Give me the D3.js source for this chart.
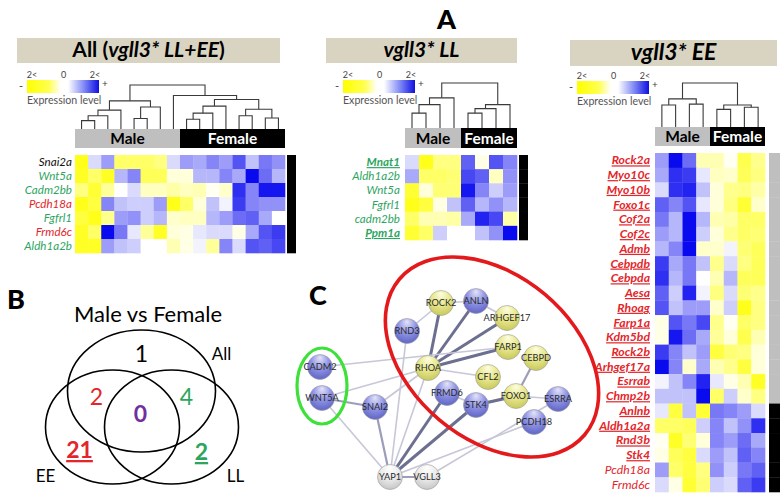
<!DOCTYPE html>
<html>
<head>
<meta charset="utf-8">
<script src="https://cdn.jsdelivr.net/npm/d3@7"></script>
<style>
  body { margin: 0; background: #fff; }
  text { font-family: Lato, "Open Sans", sans-serif; }
</style>
</head>
<body>
<svg id="fig" width="784" height="502"></svg>
<script>
// ---------- data: panel A ----------
const sexes = ["Male", "Female"];

const allGenes = ["Snai2a", "Wnt5a", "Cadm2bb", "Pcdh18a", "Fgfrl1", "Frmd6c", "Aldh1a2b"];
const allGeneSet = ["none", "LL", "LL", "EE", "LL", "EE", "LL"];
const allMaleN = 8;
const allValues = [
  [-1.8, 0.3, 0.8, -1.2, -1.2, -1.2, -1.0, 0.3, 0.8, 0.7, 1.0, 0.8, 1.4, 0.5, 1.1, 0.9],
  [-1.7, -1.2, -1.7, 0.6, 1.0, -1.3, -1.3, -0.3, -0.3, 0.6, 0.6, 1.0, 0.7, 2.0, 1.2, 0.6],
  [-1.0, -1.6, -0.8, 0.0, 0.3, -0.5, -0.5, -0.7, -0.5, -0.6, -0.1, -0.4, 1.7, 1.0, 1.9, 1.9],
  [-1.8, -1.5, 1.0, 0.5, 0.4, 0.4, 0.8, -1.8, -1.2, -0.3, 0.5, 0.1, 1.6, 1.0, 0.9, 0.9],
  [-1.5, -1.8, -0.9, 0.8, 0.9, 0.4, 0.6, -0.4, -0.5, -0.5, 0.6, 0.8, 1.2, 1.3, 0.7, 0.0],
  [-1.7, -1.2, 2.0, 1.1, 0.2, -0.8, -1.7, -0.3, -0.2, 0.2, 0.3, 0.3, -0.2, 0.7, 1.4, 1.6],
  [-1.7, -1.7, 0.8, 0.5, 0.4, 0.0, 0.0, -0.6, -0.2, 0.1, -0.8, 1.0, 0.3, 1.4, 1.3, 1.5]
];
const allBias = ["F", "F", "F", "F", "F", "F", "F"];
// dendrogram: [height, left, right], leaves = column index
const allTree = [1,
  [0.64, [0.43, [0.3, [0.19, 0, 1], 2], 3], [0.5, [0.24, 4, 5], 6]],
  [0.76, 7, [0.67, [0.52, [0.36, [0.22, 8, 9], 10], 11], [0.45, [0.3, 12, 13], [0.25, 14, 15]]]]
];

const llGenes = ["Mnat1", "Aldh1a2b", "Wnt5a", "Fgfrl1", "cadm2bb", "Ppm1a"];
const llOnly = ["Mnat1", "Ppm1a"];
const llMaleN = 4;
const llValues = [
  [0.3, -1.8, -1.0, -1.0, 1.3, -0.2, 1.4, 1.0],
  [0.7, -1.2, -1.2, -1.1, 1.5, 1.3, -0.5, 0.9],
  [-1.6, -0.3, -1.1, -1.1, 1.9, 1.0, 0.4, 0.8],
  [-1.8, -1.5, -0.2, 0.5, 1.3, 0.6, 0.9, 0.6],
  [-1.2, -0.6, -0.6, -0.7, 0.7, 1.8, 1.5, -0.7],
  [-1.6, -1.2, 0.4, 0.0, 0.0, 0.5, 0.9, 2.0]
];
const llBias = ["F", "F", "F", "F", "F", "F"];
const llTree = [1, [0.67, [0.52, [0.33, 0, 1], 2], 3], [0.52, [0.43, [0.33, 4, 5], 6], 7]];

const eeGenes = ["Rock2a", "Myo10c", "Myo10b", "Foxo1c", "Cof2a", "Cof2c", "Admb", "Cebpdb",
  "Cebpda", "Aesa", "Rhoag", "Farp1a", "Kdm5bd", "Rock2b", "Arhgef17a", "Esrrab", "Chmp2b",
  "Anlnb", "Aldh1a2a", "Rnd3b", "Stk4", "Pcdh18a", "Frmd6c"];
const eeShared = ["Pcdh18a", "Frmd6c"];
const eeMaleN = 4;
const eeValues = [
  [0.8, 2.0, 1.2, -0.6, -0.6, -0.1, -1.4, -0.9],
  [0.7, 1.7, 1.6, 0.2, -0.5, -0.4, -1.3, -1.0],
  [0.3, 1.7, 1.8, 0.5, -0.3, -0.9, -1.0, -0.7],
  [1.3, 1.0, 1.4, 0.2, -0.3, -1.0, -1.6, -0.4],
  [1.1, 0.6, 2.0, 0.6, -0.6, -0.7, -1.2, -1.2],
  [0.8, 0.6, 2.0, 0.4, -0.3, -0.9, -1.2, -1.1],
  [0.6, 1.0, 2.0, -0.4, -0.4, 0.1, -1.1, -1.3],
  [1.6, 0.7, 1.1, 0.5, -0.9, 0.3, -1.0, -1.3],
  [1.7, 0.6, 1.1, 0.0, -0.6, 0.6, -1.3, -1.3],
  [1.3, 0.4, 1.8, 0.1, -1.0, 0.3, -1.1, -0.9],
  [1.4, 0.5, 0.8, 0.8, -0.4, 0.4, -1.8, -1.0],
  [-0.2, 1.4, 1.1, 1.5, -0.9, -0.1, -1.2, -1.0],
  [-0.2, 1.9, 1.2, 0.7, -0.8, -0.3, -1.4, -0.6],
  [1.6, 1.0, 0.5, 0.8, -1.5, -1.1, -1.0, -0.3],
  [2.0, 1.0, -0.4, 0.7, -0.6, -0.9, -1.5, -0.3],
  [0.1, 0.5, 1.0, 1.8, 0.2, -0.2, -0.6, -1.7],
  [0.5, 0.5, 0.5, 2.0, -1.2, 0.4, -0.4, -1.0],
  [0.2, -1.5, 0.5, -1.6, 1.1, 1.0, 0.8, 0.3],
  [-1.2, -1.2, -1.3, 0.4, 1.0, 0.5, 0.9, 1.7],
  [-0.1, -1.7, -1.1, -0.3, 1.0, 0.8, 1.2, 0.7],
  [-0.2, -1.3, -1.5, 0.3, 0.8, 0.5, 1.3, 1.0],
  [0.8, -1.2, -1.5, -1.0, 0.9, 0.4, 1.1, 1.3],
  [0.3, -0.2, -1.6, -1.1, 0.4, 0.3, 1.3, 1.6]
];
const eeBias = ["M", "M", "M", "M", "M", "M", "M", "M", "M", "M", "M", "M", "M", "M", "M", "M", "M",
  "F", "F", "F", "F", "F", "F"];
const eeTree = [1, [0.64, [0.5, 0, 1], [0.52, 2, 3]], [0.5, [0.4, 4, 5], [0.45, 6, 7]]];

const legendTicks = ["2<", "0", "2<"];

// ---------- data: panel B ----------
const vennTitle = "Male vs Female";
const vennSets = ["All", "EE", "LL"];
const vennCx = [0, -29, 30];
const vennCy = [-36, 0, 0];
const vennRx = [74, 67, 67];
const vennRy = [61, 57, 57];
const vennCounts = ["1", "2", "4", "0", "21", "2"];
const vennRegion = ["All", "All+EE", "All+LL", "all", "EE", "LL"];
const vennCountX = [0, -45, 45, -1, -62, 60];
const vennCountY = [-65, -22, -22, -5, 31, 33];
const vennLabelX = [80, -96, 94];
const vennLabelY = [-67, 55, 55];

// ---------- data: panel C ----------
const netNames = ["ROCK2", "ANLN", "ARHGEF17", "RND3", "FARP1", "CEBPD", "RHOA", "CFL2", "FRMD6",
  "STK4", "FOXO1", "ESRRA", "PCDH18", "CADM2", "WNT5A", "SNAI2", "YAP1", "VGLL3"];
const netKind = ["up", "down", "up", "down", "up", "up", "up", "up", "down",
  "down", "up", "down", "down", "down", "down", "down", "query", "query"];
const netX = [141, 176, 207, 107, 208, 236, 128, 188, 147, 176, 216, 258, 234, 20, 22, 75, 90, 127];
const netY = [53, 51, 68, 81, 97, 108, 118, 127, 143, 155, 146, 149, 172, 117, 148, 157, 227, 227];
const netEdges = [
  ["ROCK2", "ANLN", 1], ["ROCK2", "RND3", 1], ["ROCK2", "RHOA", 3], ["ANLN", "RHOA", 3],
  ["ANLN", "ARHGEF17", 1], ["ARHGEF17", "RHOA", 3], ["FARP1", "RHOA", 3], ["CADM2", "FARP1", 1],
  ["RHOA", "CFL2", 1], ["WNT5A", "RHOA", 1], ["WNT5A", "SNAI2", 2], ["SNAI2", "RHOA", 1],
  ["WNT5A", "YAP1", 1], ["SNAI2", "YAP1", 2], ["RND3", "YAP1", 1], ["RHOA", "YAP1", 1],
  ["FRMD6", "YAP1", 3], ["STK4", "YAP1", 3], ["FRMD6", "STK4", 1], ["STK4", "FOXO1", 3],
  ["FOXO1", "CEBPD", 2], ["FOXO1", "ESRRA", 1], ["YAP1", "VGLL3", 2], ["YAP1", "PCDH18", 1],
  ["VGLL3", "ESRRA", 1]
];

// ---------- drawing ----------
const svg = d3.select("#fig");
const defs = svg.append("defs");
const RED = "#e3262b", GREEN = "#2ea55f", PURPLE = "#7030a0";

const heat = d3.scaleLinear().domain([-2, 0, 2]).range(["#ffff00", "#ffffff", "#0a0aef"]).clamp(true);

const lg = defs.append("linearGradient").attr("id", "legGrad");
[[0, "#ffff00"], [0.3, "#ffff50"], [0.47, "#ffffff"], [0.57, "#ffffff"], [0.8, "#7b85f5"], [1, "#0f10e0"]]
  .forEach(s => lg.append("stop").attr("offset", s[0]).attr("stop-color", s[1]));

function heatPanel(p, genes, values, tree, maleN, bias, labelFill, labelStrong) {
  const nCol = values[0].length;
  const x = d3.scaleBand().domain(d3.range(nCol)).range([p.x0, p.x1]);
  const y = d3.scaleBand().domain(genes).range([p.y0, p.y1]);
  const g = svg.append("g");

  // title bar
  g.append("rect").attr("x", p.tx0).attr("y", p.ty0)
    .attr("width", p.tx1 - p.tx0).attr("height", p.ty1 - p.ty0).attr("fill", "#d9d4c2");
  const t = g.append("text").attr("x", (p.tx0 + p.tx1) / 2).attr("y", p.ty1 - 6)
    .attr("text-anchor", "middle").attr("font-size", p.tsize).attr("font-weight", "bold");
  p.title.forEach(s => t.append("tspan").attr("font-style", s[1] ? "italic" : "normal").text(s[0]));

  // legend
  const lx = p.lx, ly = p.ly, lw = 72;
  g.append("rect").attr("x", lx).attr("y", ly).attr("width", lw).attr("height", 13).attr("fill", "url(#legGrad)");
  const lt = d3.scalePoint().domain(d3.range(3)).range([lx + 5, lx + lw - 4]);
  legendTicks.forEach((s, i) => g.append("text").attr("x", lt(i)).attr("y", ly - 2)
    .attr("text-anchor", "middle").attr("font-size", 9).attr("fill", "#444").text(s));
  g.append("text").attr("x", lx - 6).attr("y", ly + 10).attr("text-anchor", "middle")
    .attr("font-size", 11).attr("fill", "#444").text("-");
  g.append("text").attr("x", lx + lw + 6).attr("y", ly + 7).attr("text-anchor", "middle")
    .attr("font-size", 10).attr("fill", "#444").text("+");
  g.append("text").attr("x", lx).attr("y", ly + 24).attr("font-size", 10.6).attr("fill", "#555")
    .text("Expression level");

  // dendrogram
  const hy = d3.scaleLinear().domain([0, 1]).range([p.by0, p.dTop]);
  const root = d3.hierarchy(tree, d => Array.isArray(d) ? d.slice(1) : null);
  root.eachAfter(n => {
    if (n.children) {
      n.px = d3.mean(n.children, c => c.px);
      n.py = hy(n.data[0]);
    } else {
      n.px = x(n.data) + x.bandwidth() / 2;
      n.py = hy(0);
    }
  });
  g.append("g").selectAll("path").data(root.descendants().filter(n => n.children)).join("path")
    .attr("fill", "none").attr("stroke", "#3a3a3a").attr("stroke-width", 1.1)
    .attr("d", n => {
      const [a, b] = n.children;
      return `M${a.px},${a.py}V${n.py}H${b.px}V${b.py}`;
    });

  // male / female bar
  const sx = [x(0), x(maleN), p.x1];
  sexes.forEach((s, i) => {
    g.append("rect").attr("x", sx[i]).attr("y", p.by0).attr("width", sx[i + 1] - sx[i])
      .attr("height", p.by1 - p.by0).attr("fill", i ? "#000" : "#bfbfbf");
    g.append("text").attr("x", (sx[i] + sx[i + 1]) / 2).attr("y", p.by1 - 4)
      .attr("text-anchor", "middle").attr("font-size", p.bsize).attr("font-weight", "bold")
      .attr("fill", i ? "#fff" : "#000").text(s);
  });

  // cells
  values.forEach((row, r) => {
    g.append("g").selectAll("rect").data(row).join("rect")
      .attr("x", (d, c) => x(c)).attr("y", y(genes[r]))
      .attr("width", x.bandwidth() + 0.3).attr("height", y.bandwidth() + 0.3)
      .attr("fill", d => heat(d));
  });

  // side bar
  g.append("g").selectAll("rect").data(bias).join("rect")
    .attr("x", p.sx0).attr("width", p.sx1 - p.sx0)
    .attr("y", (d, i) => y(genes[i])).attr("height", y.bandwidth() + 0.3)
    .attr("fill", d => d === "M" ? "#bfbfbf" : "#000");

  // gene labels
  g.append("g").selectAll("text").data(genes).join("text")
    .attr("x", p.gx).attr("y", d => y(d) + y.bandwidth() / 2 + 4)
    .attr("text-anchor", "end").attr("font-size", p.gsize).attr("font-style", "italic")
    .attr("fill", (d, i) => labelFill(d, i))
    .attr("font-weight", d => labelStrong(d) ? "bold" : "normal")
    .style("text-decoration", d => labelStrong(d) ? "underline" : "none")
    .text(d => d);
}

const setColor = { none: "#111", LL: GREEN, EE: RED };

heatPanel({
  x0: 75, x1: 285, y0: 155, y1: 253, tx0: 17, tx1: 280, ty0: 38, ty1: 63, tsize: 21,
  title: [["All (", false], ["vgll3* LL+EE", true], [")", false]],
  lx: 27, ly: 80, dTop: 85, by0: 129, by1: 148, bsize: 15.5, sx0: 287, sx1: 296, gx: 72, gsize: 11.6
}, allGenes, allValues, allTree, allMaleN, allBias, (d, i) => setColor[allGeneSet[i]], d => false);

heatPanel({
  x0: 405, x1: 517, y0: 155, y1: 240, tx0: 326, tx1: 517, ty0: 38, ty1: 63, tsize: 21,
  title: [["vgll3* LL", true]],
  lx: 343, ly: 80, dTop: 83, by0: 128, by1: 148, bsize: 15.5, sx0: 519, sx1: 528, gx: 400, gsize: 11.6
}, llGenes, llValues, llTree, llMaleN, llBias, () => GREEN, d => llOnly.includes(d));

heatPanel({
  x0: 655, x1: 765, y0: 153, y1: 492, tx0: 570, tx1: 777, ty0: 40, ty1: 66, tsize: 23,
  title: [["vgll3* EE", true]],
  lx: 577, ly: 81, dTop: 83, by0: 127, by1: 146, bsize: 15.5, sx0: 769, sx1: 780, gx: 650, gsize: 12.2
}, eeGenes, eeValues, eeTree, eeMaleN, eeBias, () => RED, d => !eeShared.includes(d));

// panel letters
[["A", 437, 29], ["B", 7, 309], ["C", 309, 305]].forEach(l =>
  svg.append("text").attr("x", l[1]).attr("y", l[2]).attr("font-size", 27)
    .attr("font-weight", "900").text(l[0]));

// ---------- panel B: Venn ----------
const vx = d3.scaleLinear().domain([-100, 100]).range([41.5, 241.5]);
const vy = d3.scaleLinear().domain([-100, 100]).range([327, 527]);
svg.append("text").attr("x", 148).attr("y", 322).attr("text-anchor", "middle")
  .attr("font-size", 22).text(vennTitle);
svg.append("g").selectAll("ellipse").data(vennSets).join("ellipse")
  .attr("cx", (d, i) => vx(vennCx[i])).attr("cy", (d, i) => vy(vennCy[i]))
  .attr("rx", (d, i) => vennRx[i]).attr("ry", (d, i) => vennRy[i])
  .attr("fill", "none").attr("stroke", "#000").attr("stroke-width", 1.6);
svg.append("g").selectAll("text").data(vennSets).join("text")
  .attr("x", (d, i) => vx(vennLabelX[i])).attr("y", (d, i) => vy(vennLabelY[i]))
  .attr("text-anchor", "middle").attr("font-size", 17).text(d => d);
const regionStyle = {
  "All": ["#000", "normal", "none"], "All+EE": [RED, "normal", "none"],
  "All+LL": [GREEN, "normal", "none"], "all": [PURPLE, "bold", "none"],
  "EE": [RED, "bold", "underline"], "LL": [GREEN, "bold", "underline"]
};
svg.append("g").selectAll("text").data(vennCounts).join("text")
  .attr("x", (d, i) => vx(vennCountX[i])).attr("y", (d, i) => vy(vennCountY[i]))
  .attr("text-anchor", "middle").attr("font-size", 23)
  .attr("fill", (d, i) => regionStyle[vennRegion[i]][0])
  .attr("font-weight", (d, i) => regionStyle[vennRegion[i]][1])
  .style("text-decoration", (d, i) => regionStyle[vennRegion[i]][2])
  .text(d => d);

// ---------- panel C: network ----------
const nx = d3.scaleLinear().domain([0, 300]).range([300, 600]);
const ny = d3.scaleLinear().domain([0, 250]).range([250, 500]);
const nodes = netNames.map((n, i) => ({ id: n, kind: netKind[i], x: nx(netX[i]), y: ny(netY[i]) }));
const byId = new Map(nodes.map(n => [n.id, n]));
const edgeStyle = { 1: ["#c6c7d8", 1.6], 2: ["#9c9db8", 2.2], 3: ["#6d6f90", 3] };

const grads = { down: ["#e4e4fa", "#9094e4", "#5a5fc2"], up: ["#fdfde0", "#e8e890", "#c5c556"], query: ["#ffffff", "#ececec", "#c2c2c2"] };
Object.entries(grads).forEach(([k, c]) => {
  const gr = defs.append("radialGradient").attr("id", "node-" + k)
    .attr("cx", 0.5).attr("cy", 0.35).attr("r", 0.7).attr("fx", 0.5).attr("fy", 0.12);
  [[0, c[0]], [0.5, c[1]], [1, c[2]]].forEach(s => gr.append("stop").attr("offset", s[0]).attr("stop-color", s[1]));
});

svg.append("g").selectAll("line").data(netEdges).join("line")
  .attr("x1", d => byId.get(d[0]).x).attr("y1", d => byId.get(d[0]).y)
  .attr("x2", d => byId.get(d[1]).x).attr("y2", d => byId.get(d[1]).y)
  .attr("stroke", d => edgeStyle[d[2]][0]).attr("stroke-width", d => edgeStyle[d[2]][1]);

// cluster outlines
svg.append("ellipse").attr("cx", nx(22)).attr("cy", ny(136)).attr("rx", 25).attr("ry", 38)
  .attr("fill", "none").attr("stroke", "#3ee03a").attr("stroke-width", 3.2);
svg.append("ellipse").attr("cx", 0).attr("cy", 0).attr("rx", 121).attr("ry", 82)
  .attr("transform", `translate(${nx(192)},${ny(107)}) rotate(40)`)
  .attr("fill", "none").attr("stroke", "#e3191c").attr("stroke-width", 3.6);

const ng = svg.append("g").selectAll("g").data(nodes).join("g")
  .attr("transform", d => `translate(${d.x},${d.y})`);
ng.append("circle").attr("r", 12.5).attr("fill", d => `url(#node-${d.kind})`)
  .attr("stroke", "#9a9a9a").attr("stroke-width", 0.6);
ng.append("text").attr("y", 3.3).attr("text-anchor", "middle")
  .attr("font-family", "'Liberation Sans', Arial, sans-serif").attr("font-size", 9.2)
  .attr("fill", "#2a2a2a").text(d => d.id);
</script>
</body>
</html>
